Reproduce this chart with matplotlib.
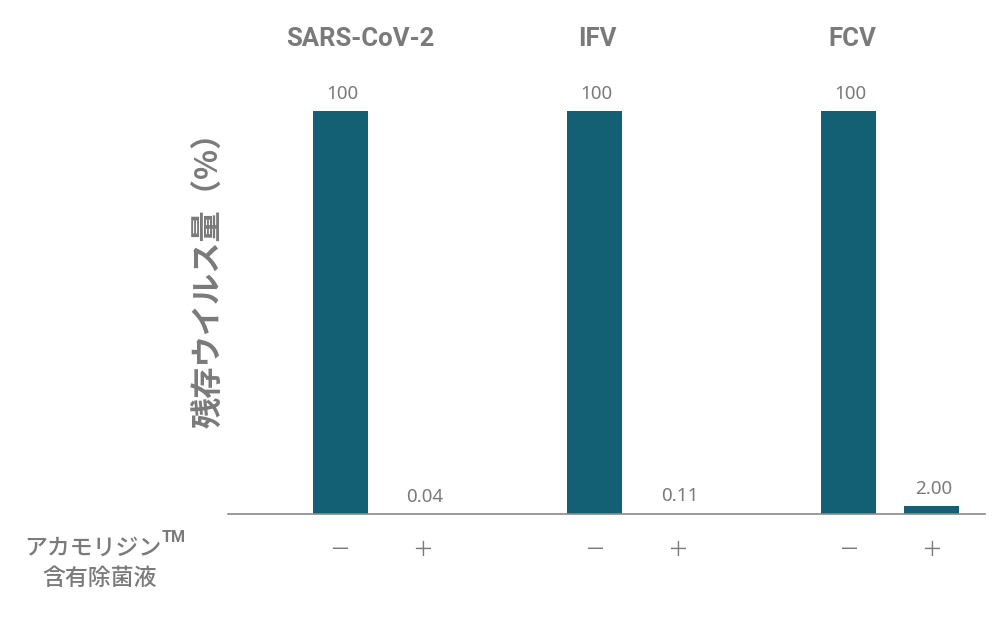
import matplotlib
matplotlib.use("Agg")
import matplotlib.pyplot as plt

plt.rcParams["font.family"] = ["Noto Sans CJK JP", "DejaVu Sans"]

viruses = ["SARS-CoV-2", "IFV", "FCV"]
without_agent = [100, 100, 100]
with_agent = [0.04, 0.11, 2.00]
without_labels = ["100", "100", "100"]
with_labels = ["0.04", "0.11", "2.00"]
treatment_marks = ["－", "＋"]

bar_color = "#135f74"
text_color = "#7a7a7a"

fig = plt.figure(figsize=(10, 6.2), dpi=100)
ax = fig.add_axes([0.228, 0.171, 0.757, 0.65])

group_centers = [381.5, 636, 890]
title_shift = [20, 3, 4]
offset = 41.5
width = 55

for i, name in enumerate(viruses):
    x0 = group_centers[i] - offset
    x1 = group_centers[i] + offset
    ax.bar(x0, without_agent[i], width=width, color=bar_color)
    ax.bar(x1, with_agent[i], width=width, color=bar_color)
    ax.text(x0 + 2, without_agent[i] + 2, without_labels[i], ha="center", va="bottom",
            fontsize=13.5, color=text_color, family="Noto Sans")
    ax.text(x1 + 2, with_agent[i] + 2, with_labels[i], ha="center", va="bottom",
            fontsize=13.5, color=text_color, family="Noto Sans")
    ax.text(x0 + title_shift[i], 114.8, name, ha="center", va="bottom", fontsize=18.5,
            fontweight="bold", color=text_color, family="Roboto")
    ax.text(x0, -9, treatment_marks[0], ha="center", va="center", fontsize=15,
            color=text_color)
    ax.text(x1, -9, treatment_marks[1], ha="center", va="center", fontsize=15,
            color=text_color)

ax.set_xlim(228, 985)
ax.set_ylim(0, 100)
for side in ["top", "right", "left"]:
    ax.spines[side].set_visible(False)
ax.spines["bottom"].set_color("#8a8a8a")
ax.spines["bottom"].set_linewidth(1.2)
ax.set_xticks([])
ax.set_yticks([])

fig.text(0.21, 0.56, "残存ウイルス量（%）", rotation=90, ha="center", va="center",
         fontsize=22.5, fontweight="bold", color=text_color)
fig.text(0.093, 1 - 548 / 620, "アカモリジン", ha="center", va="center",
         fontsize=16.5, fontweight="medium", color=text_color)
fig.text(0.162, 1 - 538 / 620, "TM", ha="left", va="center",
         fontsize=11.5, fontweight="bold", color=text_color, family="Roboto")
fig.text(0.100, 1 - 578 / 620, "含有除菌液", ha="center", va="center",
         fontsize=16.5, fontweight="medium", color=text_color)

fig.savefig("out.png", dpi=100)
